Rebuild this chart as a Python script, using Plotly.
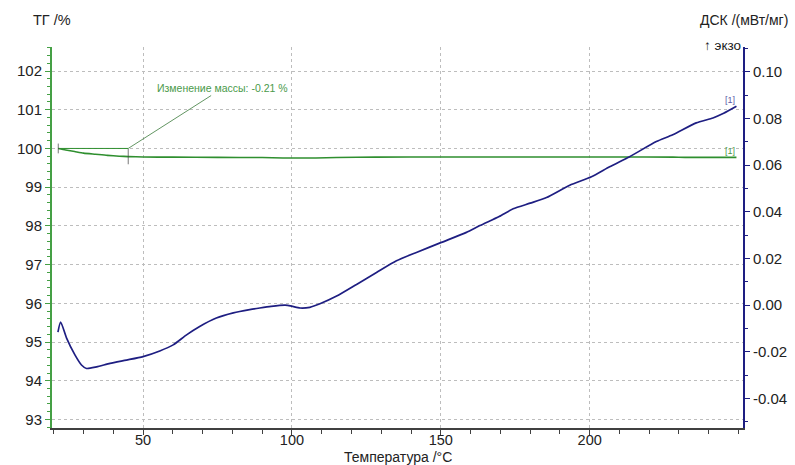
import plotly.graph_objects as go
import numpy as np

# --- TG curve (mass, %) ---
tg_temp = [21.5, 24, 27, 30, 34, 38, 42, 45, 50, 60, 75, 90, 97, 108, 115,
           128, 150, 180, 210, 228, 232, 245, 249.3]
tg_mass = [100.00, 99.96, 99.92, 99.88, 99.85, 99.82, 99.80, 99.79, 99.78,
           99.775, 99.77, 99.765, 99.755, 99.755, 99.765, 99.775, 99.78,
           99.78, 99.78, 99.775, 99.77, 99.77, 99.77]

# --- DSC curve (mW/mg) ---
dsc_temp = [21.4, 22.3, 24.3, 27.1, 29.3, 31.0, 34.4, 38.9, 44.4, 50.0, 55.6,
            60.1, 64.6, 69.0, 74.6, 80.3, 85.8, 89.2, 93.0, 97.7, 99.9, 102.7,
            106.0, 109.4, 115.0, 121.7, 128.4, 135.1, 141.8, 150.2, 158.6,
            163.1, 169.6, 174.3, 180.0, 185.5, 193.3, 200.6, 206.7, 213.4,
            222.4, 227.9, 235.8, 241.4, 245.0, 249.3]
dsc_val = [-0.0115, -0.0072, -0.0141, -0.0213, -0.0256, -0.0271, -0.0264,
           -0.0249, -0.0235, -0.0220, -0.0196, -0.0170, -0.0127, -0.0091,
           -0.0055, -0.0033, -0.0019, -0.0012, -0.0005, 0.0000, -0.0004,
           -0.0012, -0.0009, 0.0006, 0.0039, 0.0089, 0.0140, 0.0190, 0.0226,
           0.0269, 0.0312, 0.0341, 0.0380, 0.0413, 0.0437, 0.0461, 0.0514,
           0.0550, 0.0593, 0.0636, 0.0701, 0.0730, 0.0781, 0.0802, 0.0822,
           0.0852]

# Mass-change evaluation interval
step_start, step_end = 21.5, 45.0

# Axis ticks
x_ticks = [50, 100, 150, 200]
tg_ticks = [93, 94, 95, 96, 97, 98, 99, 100, 101, 102]
dsc_ticks = [-0.04, -0.02, 0.00, 0.02, 0.04, 0.06, 0.08, 0.10]
dsc_tick_text = ["-0.04", "-0.02", "0.00", "0.02", "0.04", "0.06", "0.08", "0.10"]

GREEN = "#2f8f2f"
GREEN_AX = "#45a045"
BLUE = "#1e1e82"
FONT = "Liberation Sans, Arial, sans-serif"
TXT = "#222222"

tg_a = float(np.interp(step_start, tg_temp, tg_mass))
tg_b = float(np.interp(step_end, tg_temp, tg_mass))
delta = tg_b - tg_a

fig = go.Figure()

fig.add_trace(go.Scatter(x=tg_temp, y=tg_mass, mode="lines",
                         line=dict(color=GREEN, width=1.6, shape="spline",
                                   smoothing=0.6),
                         yaxis="y", hoverinfo="skip", showlegend=False))
fig.add_trace(go.Scatter(x=dsc_temp, y=dsc_val, mode="lines",
                         line=dict(color=BLUE, width=1.7, shape="spline",
                                   smoothing=0.6),
                         yaxis="y2", hoverinfo="skip", showlegend=False))

# Mass-change construction: reference level and interval markers
fig.add_trace(go.Scatter(x=[step_start, step_end], y=[tg_a, tg_a], mode="lines",
                         line=dict(color=GREEN, width=1), yaxis="y",
                         hoverinfo="skip", showlegend=False))
fig.add_trace(go.Scatter(x=[step_start, step_end], y=[tg_a, tg_b], mode="markers",
                         marker=dict(symbol="line-ns", size=[7, 11],
                                     line=dict(color="#404040", width=1)),
                         yaxis="y", hoverinfo="skip", showlegend=False))

fig.add_annotation(x=step_end, y=tg_a, xref="x", yref="y",
                   ax=76.8, ay=101.56, axref="x", ayref="y",
                   text=f"Изменение массы: {delta:.2f} %",
                   showarrow=True, arrowhead=0, arrowwidth=0.8,
                   arrowcolor="#3a7a3a",
                   font=dict(family=FONT, size=10.5, color="#4a9a4a"))

# Curve end labels
fig.add_annotation(x=dsc_temp[-1], y=dsc_val[-1], xref="x", yref="y2",
                   text="[1]", showarrow=False, xanchor="right", yanchor="bottom",
                   xshift=1, yshift=-1,
                   font=dict(family=FONT, size=9, color="#5a5aa8"))
fig.add_annotation(x=tg_temp[-1], y=tg_mass[-1], xref="x", yref="y",
                   text="[1]", showarrow=False, xanchor="right", yanchor="bottom",
                   xshift=1, yshift=-1,
                   font=dict(family=FONT, size=9, color="#4a9a4a"))

# Axis titles
fig.add_annotation(x=0, y=1.071, xref="paper", yref="paper", text="ТГ /%",
                   showarrow=False, xanchor="center", yanchor="middle",
                   font=dict(family=FONT, size=14.5, color=TXT))
fig.add_annotation(x=1.001, y=1.071, xref="paper", yref="paper",
                   text="ДСК /(мВт/мг)", showarrow=False, xanchor="center",
                   yanchor="middle", font=dict(family=FONT, size=14, color=TXT))
fig.add_annotation(x=1.0, y=1.004, xref="paper", yref="paper", text="↑ экзо",
                   showarrow=False, xanchor="right", yanchor="middle",
                   font=dict(family=FONT, size=13.5, color=TXT))
fig.add_annotation(x=0.5, y=-0.075, xref="paper", yref="paper",
                   text="Температура /°C", showarrow=False, xanchor="center",
                   yanchor="middle", font=dict(family=FONT, size=14, color=TXT))

grid = dict(showgrid=True, gridcolor="#bdbdbd", griddash="dot", gridwidth=1)

fig.update_layout(
    width=795, height=465,
    margin=dict(l=52, r=52, t=47, b=37),
    paper_bgcolor="white", plot_bgcolor="white",
    font=dict(family=FONT, size=15, color=TXT),
    xaxis=dict(range=[19.4, 251.5], tickvals=x_ticks, ticks="outside",
               ticklen=5, tickcolor="#404040", showline=True,
               linecolor="#404040", linewidth=2, zeroline=False,
               automargin=False, ticklabelstandoff=-7,
               minor=dict(dtick=10, tick0=0, ticks="outside", ticklen=4,
                          tickcolor="#404040", showgrid=False),
               tickfont=dict(family=FONT, size=14.5, color=TXT), **grid),
    yaxis=dict(range=[92.78, 102.62], tickvals=tg_ticks, ticks="outside",
               ticklen=5, tickcolor=GREEN_AX, showline=True,
               linecolor=GREEN_AX, linewidth=2, zeroline=False,
               automargin=False,
               minor=dict(dtick=0.2, tick0=0, ticks="outside", ticklen=3,
                          tickcolor=GREEN_AX, showgrid=False),
               tickfont=dict(family=FONT, size=15, color=TXT), **grid),
    yaxis2=dict(range=[-0.0526, 0.1106], overlaying="y", side="right",
                tickvals=dsc_ticks, ticktext=dsc_tick_text, ticks="outside",
                ticklen=5, tickcolor=BLUE, showline=True, linecolor=BLUE,
                linewidth=2, zeroline=False, showgrid=False, automargin=False,
                minor=dict(dtick=0.01, tick0=0, ticks="outside", ticklen=3,
                           tickcolor=BLUE, showgrid=False),
                tickfont=dict(family=FONT, size=15, color=TXT)),
)

fig.write_html("out.html")
